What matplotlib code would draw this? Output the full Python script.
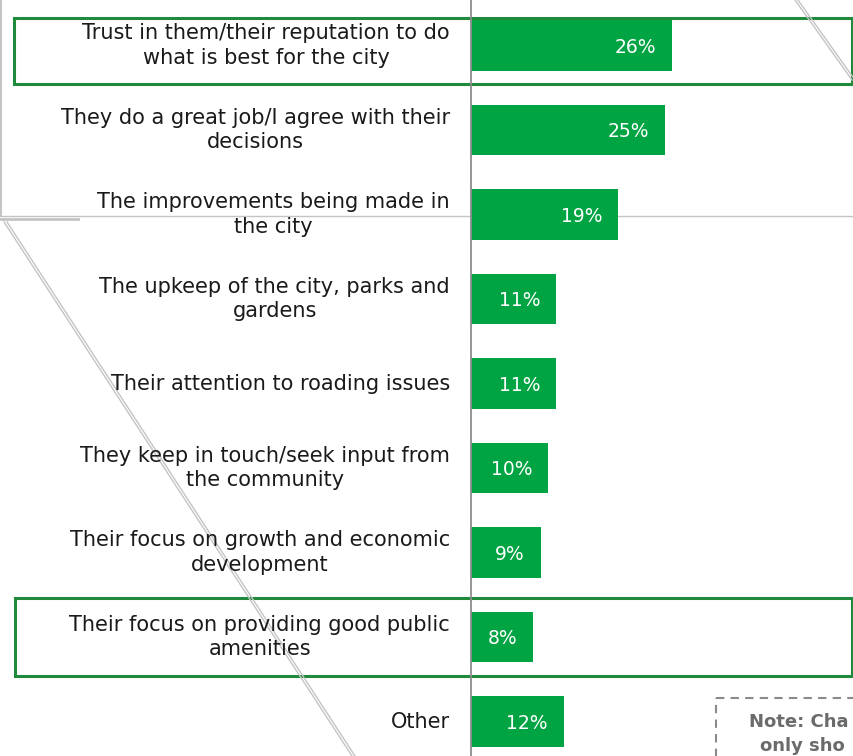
import numpy as np
import matplotlib.pyplot as plt
from matplotlib.patches import Rectangle

reasons = ["Trust in them/their reputation to do\nwhat is best for the city",
           "They do a great job/I agree with their\ndecisions",
           "The improvements being made in\nthe city",
           "The upkeep of the city, parks and\ngardens",
           "Their attention to roading issues",
           "They keep in touch/seek input from\nthe community",
           "Their focus on growth and economic\ndevelopment",
           "Their focus on providing good public\namenities",
           "Other"]
share = [26, 25, 19, 11, 11, 10, 9, 8, 12]

bar_green = "#00a443"
box_green = "#1f8a3c"
deco_grey = "#c4c4c4"

W, H = 854, 756
fig = plt.figure(figsize=(W / 100, H / 100), dpi=100)

# background layer in pixel coordinates (slide decorations)
bg = fig.add_axes([0, 0, 1, 1], zorder=0)
bg.set_xlim(0, W)
bg.set_ylim(H, 0)
bg.axis('off')

# stray shape outlines from the slide
bg.plot([1, 1], [0, 216], color=deco_grey, lw=1.5)
bg.plot([0, W], [216, 216], color=deco_grey, lw=1.0)
bg.plot([0, 78], [219, 219], color=deco_grey, lw=2.0)
for off in (0, 3):
    bg.plot([4 + off, 352 + off], [222, 756], color=deco_grey, lw=1.0)
    bg.plot([795 + off, 852 + off], [0, 80], color=deco_grey, lw=1.0)

# highlight boxes
for (x0, y0, x1, y1) in [(14, 18, 852, 84), (15, 598, 852, 676)]:
    bg.add_patch(Rectangle((x0, y0), x1 - x0, y1 - y0, fill=False,
                           edgecolor=box_green, lw=2.2))

# note box (runs off the edge of the crop)
bg.add_patch(Rectangle((716, 698), 200, 100, fill=False, edgecolor="#8a8a8a",
                       lw=1.5, ls=(0, (4, 3))))
bg.text(749, 722, "Note: Cha", fontsize=13, fontweight='bold', color="#6b6b6b",
        va='center', ha='left')
bg.text(760, 746, "only sho", fontsize=13, fontweight='bold', color="#6b6b6b",
        va='center', ha='left')

# main chart
px_per = 7.75
left = 471
ax = fig.add_axes([left / W, 0, (W - left) / W, 1], zorder=1)
ax.patch.set_alpha(0)
pos = np.arange(len(share))
ax.barh(pos, share, height=0.6, color=bar_green)
ax.set_xlim(0, (W - left) / px_per)
ax.set_ylim((H - 45.5) / 84.5, -45.5 / 84.5)

for i, (lab, v) in enumerate(zip(reasons, share)):
    ax.text(-21 / px_per, i, lab, ha='right', va='center', multialignment='center',
            fontsize=15, color="#1a1a1a", linespacing=1.28, clip_on=False)
    ax.text(v - 16 / px_per, i + 0.02, f"{v}%", ha='right', va='center',
            color='white', fontsize=13.5)

for s in ['top', 'right', 'bottom']:
    ax.spines[s].set_visible(False)
ax.spines['left'].set_color("#8c8c8c")
ax.spines['left'].set_linewidth(1.3)
ax.set_xticks([])
ax.set_yticks([])

fig.savefig("out.png", dpi=100)
